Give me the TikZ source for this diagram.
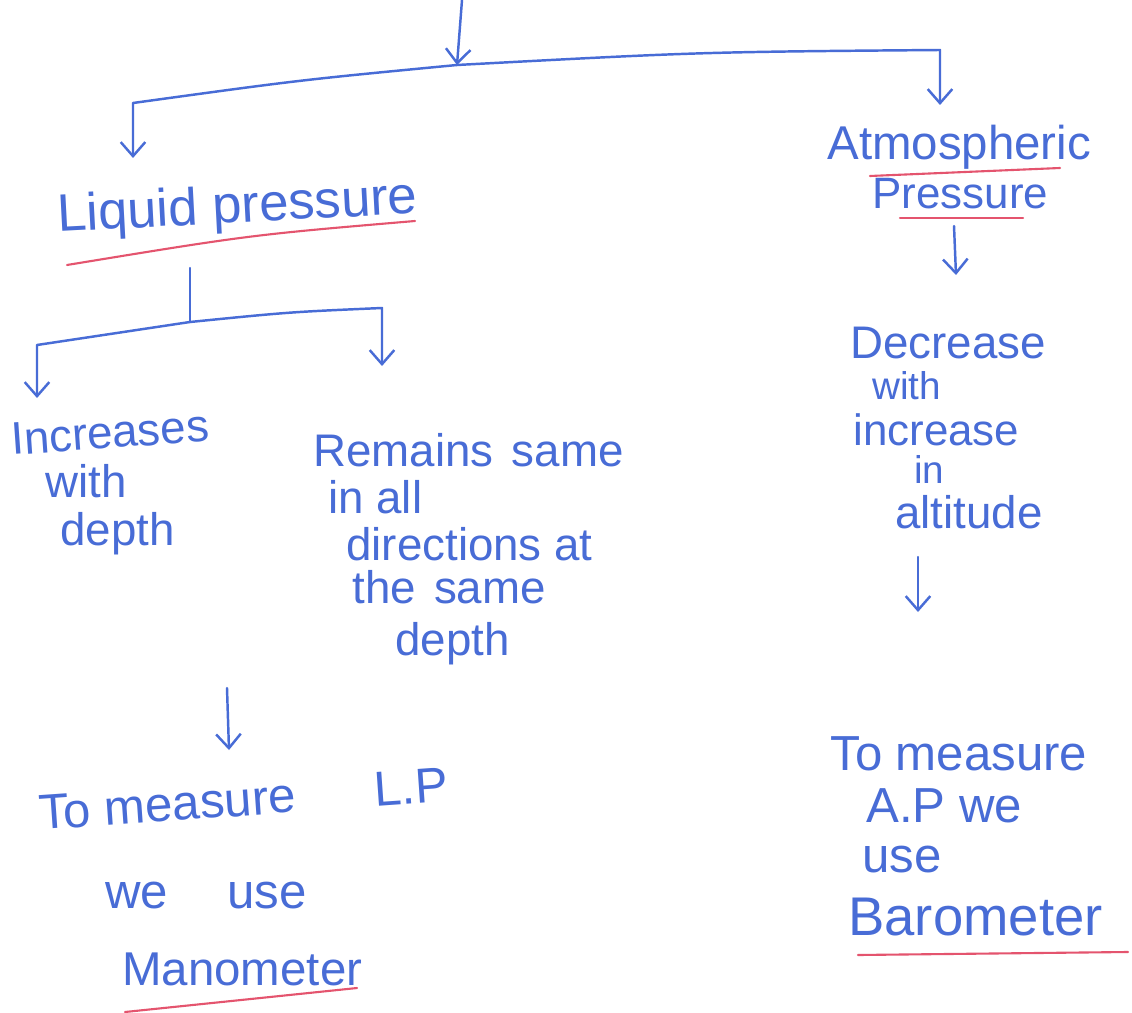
\documentclass[tikz,border=0pt]{standalone}
\usepackage{fontspec}
\setmainfont{Liberation Sans}
\usetikzlibrary{arrows.meta}
\definecolor{ink}{RGB}{72,108,214}
\definecolor{redink}{RGB}{228,84,110}
\begin{document}
\begin{tikzpicture}[x=0.02cm,y=-0.02cm,
  txt/.style={anchor=base west,inner sep=0pt,text=ink,font=\fontsize{26}{30}\selectfont},
  small/.style={txt,font=\fontsize{23}{26}\selectfont},
  big/.style={txt,font=\fontsize{30}{34}\selectfont},
  conn/.style={draw=ink,line width=1.4pt,line cap=round,line join=round},
  arr/.style={conn,-{Straight Barb[length=8pt,width=14pt,line width=1.4pt]}},
  uline/.style={draw=redink,line width=1.2pt,line cap=round}]
\path[use as bounding box,fill=white] (0,0) rectangle (1132,1013);

% texts
\node[big,rotate=3] (lp) at (58,232) {Liquid pressure};
\node[txt,font=\fontsize{27}{30}\selectfont] (atm1) at (827,160) {Atmospheric};
\node[small,font=\fontsize{25}{28}\selectfont] (atm2) at (872,209) {Pressure};

\node[txt,rotate=4] (inc1) at (12,455) {Increases};
\node[txt] (inc2) at (45,497) {with};
\node[txt] (inc3) at (60,545) {depth};

\node[txt] (rem1) at (313,466) {Remains\hspace{0.4em}same};
\node[txt] (rem2) at (328,513) {in all};
\node[txt] (rem3) at (346,560) {directions at};
\node[txt] (rem4) at (352,603) {the\hspace{0.4em}same};
\node[txt] (rem5) at (395,655) {depth};

\node[txt] (dec1) at (850,358) {Decrease};
\node[small,font=\fontsize{22}{26}\selectfont] (dec2) at (872,399) {with};
\node[small,font=\fontsize{25}{28}\selectfont] (dec3) at (853,445) {increase};
\node[small,font=\fontsize{22}{26}\selectfont] (dec4) at (914,483) {in};
\node[txt] (dec5) at (895,528) {altitude};

\node[txt,font=\fontsize{28}{32}\selectfont,rotate=4] (lpm1) at (40,830) {To measure\hspace{1.6em}L.P};
\node[txt,font=\fontsize{28}{32}\selectfont] (lpm2) at (105,908) {we\hspace{1.2em}use};
\node[txt,font=\fontsize{27}{32}\selectfont] (lpm3) at (122,985) {Manometer};

\node[txt,font=\fontsize{28}{32}\selectfont] (apm1) at (830,770) {To measure};
\node[txt,font=\fontsize{28}{32}\selectfont] (apm2) at (866,822) {A.P we};
\node[txt,font=\fontsize{28}{32}\selectfont] (apm3) at (862,872) {use};
\node[txt,font=\fontsize{31}{34}\selectfont] (apm4) at (848,935) {Barometer};

% coordinates of the bracket lines
\coordinate (top) at (462,0);
\coordinate (J) at (457,65);
\coordinate (Lc) at (133,103);
\coordinate (Lt) at (133,158);
\coordinate (Rc) at (940,50);
\coordinate (Rt) at (940,105);
\coordinate (S0) at (190,268);
\coordinate (S1) at (190,322);
\coordinate (SLc) at (37,345);
\coordinate (SLt) at (37,398);
\coordinate (SRc) at (382,308);
\coordinate (SRt) at (382,366);
\coordinate (A0) at (954,226);
\coordinate (A1) at (956,275);
\coordinate (B0) at (918,557);
\coordinate (B1) at (918,612);
\coordinate (C0) at (227,688);
\coordinate (C1) at (229,750);

% connectors
\draw[arr] (top) -- (J);
\draw[arr] (J) .. controls (300,80) .. (Lc) -- (Lt);
\draw[arr] (J) .. controls (700,52) .. (Rc) -- (Rt);
\draw[conn] (S0) -- (S1);
\draw[arr] (S1) -- (SLc) -- (SLt);
\draw[arr] (S1) .. controls (290,312) .. (SRc) -- (SRt);
\draw[arr] (A0) -- (A1);
\draw[arr] (B0) -- (B1);
\draw[arr] (C0) -- (C1);

% red underlines
\draw[uline] (67,265) .. controls (250,235) .. (415,221);
\draw[uline] (870,176) -- (1060,168);
\draw[uline] (900,218) -- (1023,218);
\draw[uline] (125,1012) -- (357,988);
\draw[uline] (858,955) -- (1128,952);
\end{tikzpicture}
\end{document}
